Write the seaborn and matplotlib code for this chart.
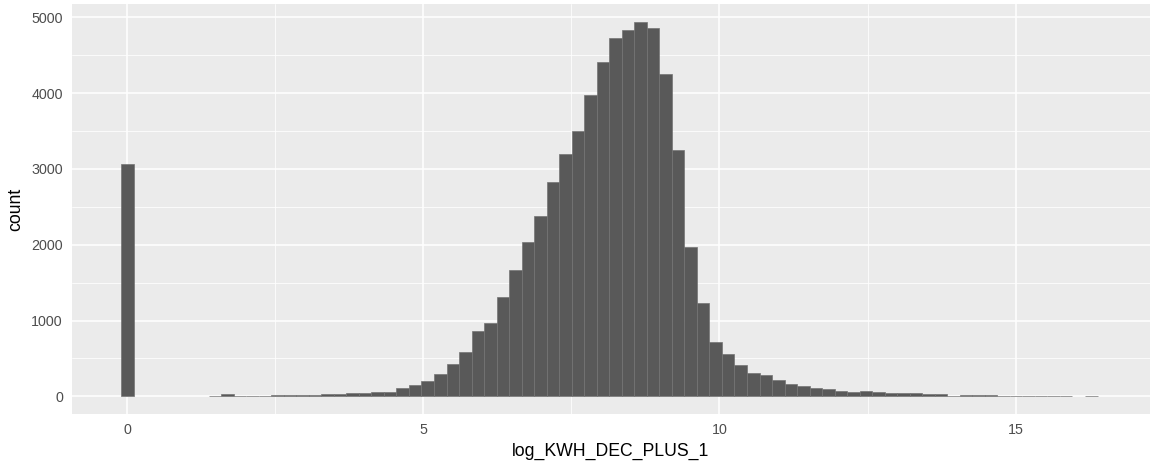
import numpy as np
import pandas as pd
import matplotlib
matplotlib.use("Agg")
import matplotlib.pyplot as plt
from matplotlib.ticker import MultipleLocator
import seaborn as sns

# ---- data ----
bin_width = 0.2114
counts = [3062, 0, 0, 0, 0, 0, 0, 4, 27, 4,
          5, 9, 12, 18, 22, 22, 26, 31, 44, 45,
          62, 62, 116, 153, 200, 300, 421, 581, 857, 973,
          1314, 1670, 2034, 2373, 2824, 3199, 3494, 3976, 4408, 4725,
          4835, 4936, 4863, 4254, 3249, 1968, 1228, 723, 557, 412,
          304, 284, 213, 158, 132, 106, 97, 70, 60, 66,
          59, 46, 42, 40, 28, 26, 7, 22, 22, 20,
          6, 9, 8, 2, 1, 1, 0, 1]
x_label = "log_KWH_DEC_PLUS_1"
y_label = "count"
x_ticks = [0, 5, 10, 15]
y_ticks = [0, 1000, 2000, 3000, 4000, 5000]

n = len(counts)
centers = np.arange(n) * bin_width
df = pd.DataFrame({"x": centers, "w": counts})

sns.set_theme(style="darkgrid")
plt.rcParams["font.family"] = ["Liberation Sans", "DejaVu Sans"]

W, H = 1162, 461
fig = plt.figure(figsize=(W / 100, H / 100), dpi=100)
left, right, top, bottom = 72, 1150, 4, 414
ax = fig.add_axes([left / W, 1 - bottom / H, (right - left) / W, (bottom - top) / H])

ax.set_facecolor("#EBEBEB")
sns.histplot(data=df, x="x", weights="w", binwidth=bin_width,
             binrange=(-bin_width / 2, (n - 0.5) * bin_width), ax=ax,
             color="#595959", alpha=1, edgecolor="#747474", linewidth=0.5)
# zero-height bars: no visible outline (as in ggplot)
for p in ax.patches:
    if p.get_height() == 0:
        p.set_edgecolor("none")

ax.set_xlim(-0.934, 17.27)
ax.set_ylim(-232, 5175)
ax.set_xticks(x_ticks)
ax.set_yticks(y_ticks)
ax.xaxis.set_minor_locator(MultipleLocator(2.5))
ax.yaxis.set_minor_locator(MultipleLocator(500))
ax.grid(which="major", color="white", linewidth=1.1)
ax.grid(which="minor", color="white", linewidth=0.55)
ax.set_axisbelow(True)
for s in ax.spines.values():
    s.set_visible(False)

ax.tick_params(axis="both", which="major", length=3.5, width=0.9, color="#333333",
               labelsize=10.3, labelcolor="#4D4D4D", pad=3, direction="out")
ax.tick_params(axis="both", which="minor", length=0)
ax.set_xticklabels([str(t) for t in x_ticks])
ax.set_yticklabels([str(t) for t in y_ticks])

ax.set_xlabel(x_label, fontsize=12.7, color="black", labelpad=4)
ax.set_ylabel(y_label, fontsize=12.7, color="black", labelpad=5)

fig.savefig("out.png", dpi=100, facecolor="white")
